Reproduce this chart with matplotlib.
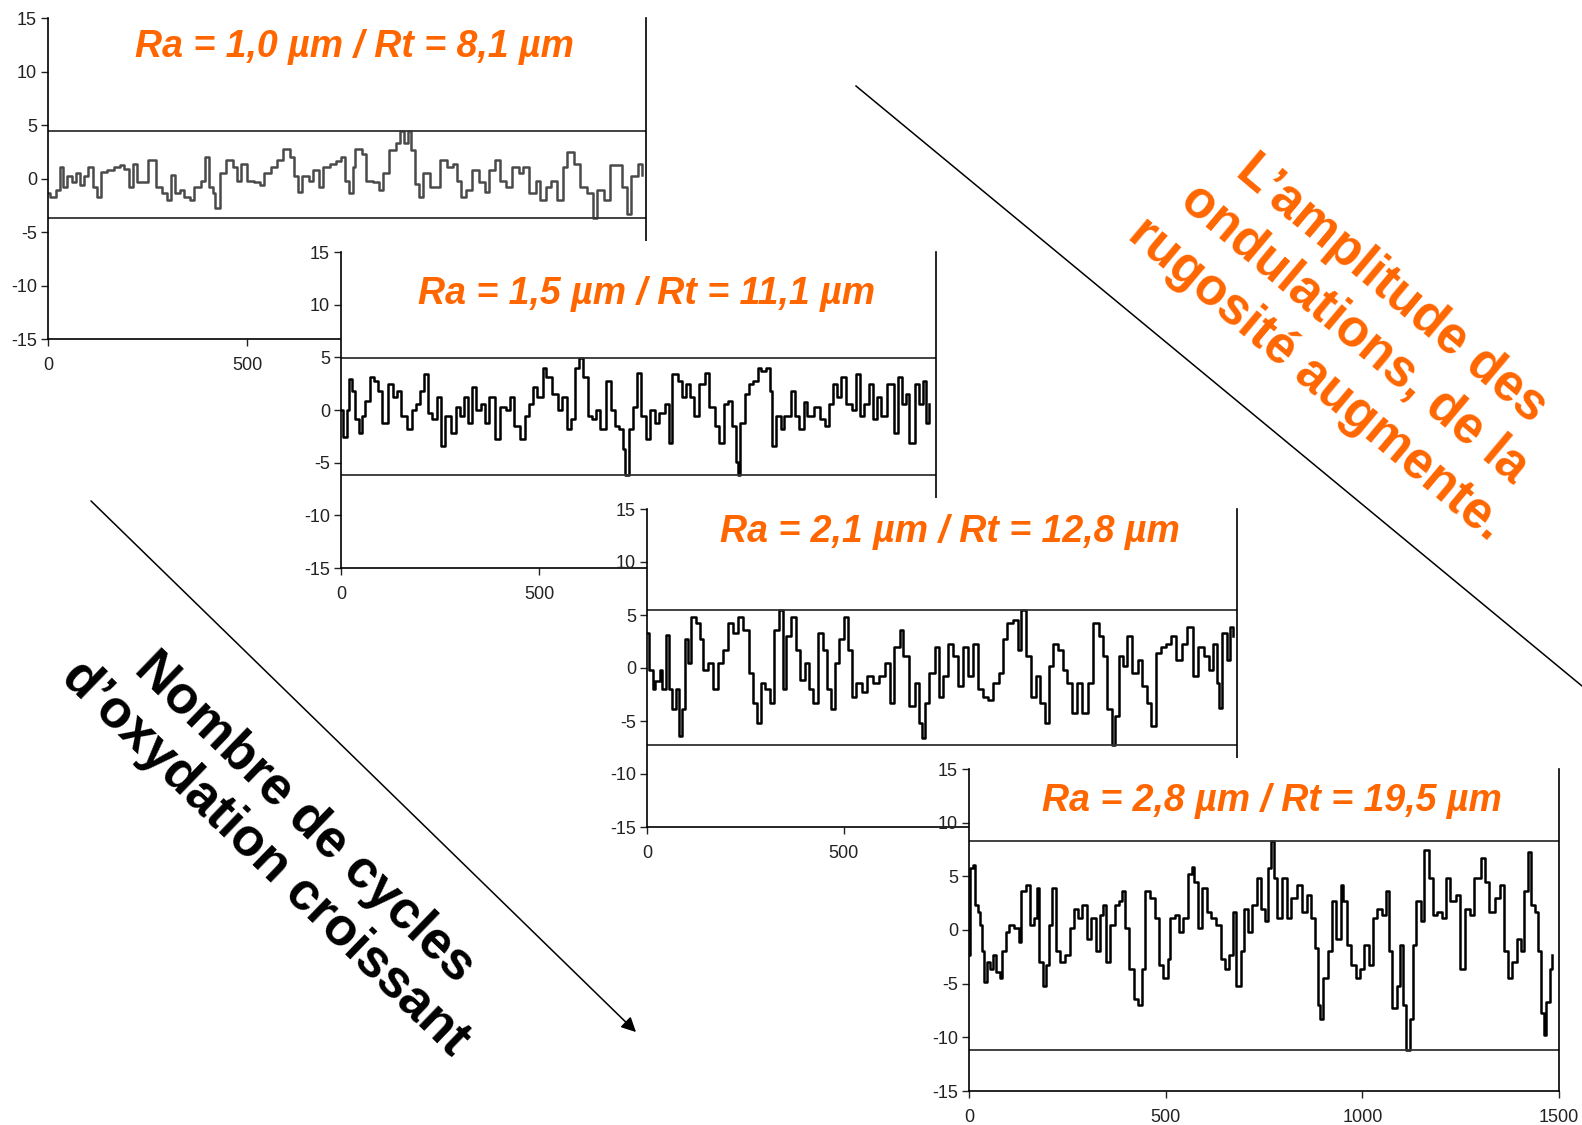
import numpy as np
import matplotlib.pyplot as plt
from matplotlib.lines import Line2D
from matplotlib.patches import FancyArrowPatch

plt.rcParams['font.family'] = ['Liberation Sans', 'DejaVu Sans']
plt.rcParams['axes.unicode_minus'] = False

W, H = 1582, 1125

# roughness profiles (position, height in µm)
x1 = [0, 5, 21, 30, 37, 48, 59, 69, 80, 90, 101, 112, 122, 133, 149, 165, 181, 191, 202, 213,
      223, 239, 250, 264, 271, 287, 298, 309, 319, 330, 340, 356, 367, 383, 394, 404, 415, 420,
      431, 447, 463, 473, 484, 500, 516, 532, 543, 559, 574, 590, 606, 617, 628, 638, 654, 665,
      681, 691, 707, 723, 734, 745, 755, 766, 771, 787, 798, 814, 830, 840, 856, 872, 883, 894,
      902, 910, 920, 931, 941, 957, 973, 984, 1000, 1016, 1027, 1037, 1048, 1064, 1080, 1096,
      1106, 1122, 1133, 1149, 1165, 1181, 1191, 1207, 1223, 1234, 1250, 1261, 1277, 1293, 1303,
      1319, 1335, 1351, 1367, 1378, 1394, 1410, 1426, 1441, 1452, 1463, 1479, 1489]
z1 = [-1.4, -1.7, -1.1, 1.1, -0.8, 0.2, -0.3, 0.5, -0.6, 0.2, 1.1, -0.8, -1.7, 0.6, 0.8, 1.1,
      1.25, 0.9, -0.8, 1.4, -0.3, -0.3, 1.7, 1.7, -0.8, -1.4, -2.0, 0.3, -1.4, -1.1, -1.7, -2.0,
      -0.8, -0.2, 2.0, -0.8, -1.4, -2.8, 0.5, 1.7, 1.1, -0.2, 1.4, -0.2, -0.3, -0.6, 0.5, 1.1,
      1.7, 2.8, 2.0, 0.2, -1.25, 0.2, -0.2, 0.8, -0.8, 1.1, 1.4, 1.6, 2.0, -0.2, -1.4, 1.1, 2.8,
      2.3, -0.2, -0.3, -1.1, 0.5, 2.7, 3.3, 4.4, 3.3, 4.4, 2.7, -0.5, -1.7, 0.5, -0.8, -0.8, 1.7,
      1.1, 1.4, -0.2, -1.7, -1.1, 0.8, -0.3, -1.25, 0.8, 1.7, -0.2, -0.8, 1.1, 0.5, 1.1, -1.4,
      -0.2, -2.0, -0.8, -0.2, -2.0, 1.1, 2.5, 1.4, -0.8, -1.4, -3.7, -1.1, -2.0, 1.25, 1.25,
      -0.8, -3.3, 0.2, 1.4, 0.3]

x2 = [0, 6, 14, 19, 27, 35, 45, 53, 61, 72, 82, 93, 104, 119, 130, 141, 151, 167, 178, 188,
      199, 209, 220, 230, 241, 252, 262, 278, 289, 299, 310, 320, 331, 341, 352, 363, 373, 389,
      400, 415, 426, 437, 452, 463, 474, 484, 495, 508, 518, 532, 548, 558, 569, 579, 590, 600,
      611, 622, 632, 643, 653, 669, 680, 690, 701, 711, 717, 725, 736, 746, 757, 770, 778, 791,
      801, 817, 828, 835, 849, 859, 870, 881, 891, 902, 917, 928, 944, 954, 965, 976, 986, 997,
      1000, 1007, 1018, 1028, 1039, 1050, 1060, 1071, 1081, 1087, 1097, 1108, 1118, 1134, 1145,
      1155, 1166, 1176, 1192, 1208, 1219, 1229, 1240, 1250, 1261, 1272, 1287, 1298, 1309, 1319,
      1330, 1340, 1351, 1361, 1377, 1393, 1404, 1414, 1425, 1433, 1446, 1457, 1467, 1476, 1483]
z2 = [0.0, -2.6, 0.0, 2.9, 1.8, -0.9, -2.2, -0.6, 0.9, 3.1, 2.8, 1.8, -1.2, 2.5, 1.2, 1.8,
      -0.6, -1.8, 0.0, 0.6, 1.8, 3.4, -0.3, -0.9, 1.2, -3.4, -0.6, -2.2, 0.3, -0.6, 1.2, -1.2,
      2.2, 0.0, 0.6, -1.2, 1.2, -2.8, 0.3, 0.0, 1.2, -1.5, -2.8, -0.6, 0.6, 2.2, 1.2, 4.0, 3.1,
      1.5, 0.0, 1.2, -1.8, -0.9, 4.0, 4.9, 3.1, -0.6, -0.9, 0.0, -1.8, 2.8, 0.0, -1.5, -1.8,
      -3.7, -6.2, -1.8, 0.3, 3.5, -0.6, -2.8, 0.0, -1.2, -0.3, 0.6, -3.1, 3.4, 2.8, 1.2, 2.5,
      1.2, -0.6, 2.5, 3.5, 0.3, -1.5, -3.1, 0.6, 0.9, -1.5, -4.9, -6.2, -1.2, 1.5, 2.5, 2.8, 4.0,
      3.7, 4.0, 1.8, -3.4, -0.6, -1.8, -0.6, 1.8, -0.6, -1.8, 0.8, -0.6, 0.3, -0.9, -1.5, 0.6,
      2.5, 1.2, 3.1, 0.6, 0.0, 3.4, -0.6, 0.6, 2.5, -0.9, 1.2, -0.6, 2.5, -2.2, 3.1, 0.6, 1.5,
      -3.1, 2.5, 0.6, 2.8, -1.2, 0.6]

x3 = [0, 5, 14, 21, 32, 39, 48, 56, 64, 74, 82, 88, 96, 103, 112, 124, 135, 142, 154, 167,
      181, 192, 205, 218, 231, 245, 259, 269, 280, 290, 301, 312, 322, 335, 346, 354, 365, 378,
      388, 401, 412, 422, 436, 447, 457, 468, 479, 489, 502, 511, 521, 532, 546, 559, 574, 590,
      606, 617, 628, 642, 652, 665, 681, 692, 699, 708, 718, 731, 742, 752, 766, 777, 790, 803,
      816, 830, 841, 854, 867, 880, 894, 904, 915, 931, 942, 950, 963, 976, 990, 1000, 1011,
      1021, 1032, 1046, 1057, 1069, 1080, 1093, 1107, 1120, 1133, 1149, 1160, 1170, 1181, 1189,
      1199, 1210, 1220, 1234, 1248, 1259, 1271, 1282, 1293, 1306, 1319, 1333, 1346, 1359, 1373,
      1389, 1401, 1415, 1429, 1440, 1450, 1455, 1463, 1474, 1482, 1489]
z3 = [3.3, -0.2, -2.0, -1.25, -0.2, -2.0, 3.1, -2.0, -3.9, -2.0, -6.4, -3.9, 2.7, 0.5, 4.8,
      4.2, 2.7, -0.2, 0.5, -2.0, 0.5, 1.7, 4.2, 3.3, 4.8, 3.6, -0.5, -3.3, -5.2, -1.4, -2.0,
      -3.3, 3.6, 5.5, -2.0, 3.0, 4.8, 1.7, -1.1, 0.5, -2.0, -3.3, 3.3, 1.7, -2.0, -3.9, 0.5, 2.7,
      4.8, 1.7, -2.7, -1.4, -2.3, -0.8, -1.4, -0.8, 0.5, -3.3, 2.0, 3.6, 1.1, -3.6, -1.4, -5.2,
      -6.6, -3.3, -0.5, 2.0, -2.7, -0.8, 2.3, 1.1, -1.7, 2.0, -0.8, 2.3, -2.0, -2.7, -3.0, -1.4,
      -0.5, 2.7, 4.2, 4.5, 1.7, 5.5, 1.1, -2.7, -0.8, -3.3, -5.2, 0.2, 2.3, 1.7, -0.2, -1.4,
      -4.2, -1.4, -4.2, -1.4, 4.2, 3.0, 1.1, -3.9, -7.3, -4.5, 1.1, 0.2, 3.0, -0.5, 0.8, -1.7,
      -3.3, -5.5, 1.4, 2.0, 2.3, 3.0, 0.8, 2.3, 3.9, -0.8, 2.0, 1.1, -0.2, 2.3, -1.4, -3.75, 3.3,
      0.8, 3.9, 3.0]

x4 = [0, 3, 9, 14, 23, 28, 34, 38, 45, 53, 60, 69, 78, 85, 93, 102, 115, 126, 133, 146, 154,
      165, 173, 178, 187, 195, 203, 211, 220, 231, 244, 257, 266, 277, 288, 301, 310, 323, 332,
      341, 348, 359, 370, 381, 389, 397, 408, 419, 430, 439, 447, 461, 472, 483, 494, 505, 512,
      523, 534, 545, 556, 567, 573, 581, 592, 606, 616, 627, 641, 651, 662, 671, 680, 691, 700,
      710, 720, 731, 742, 753, 761, 768, 775, 783, 797, 808, 819, 833, 846, 860, 870, 879, 888,
      892, 901, 912, 923, 934, 945, 950, 961, 972, 983, 994, 1005, 1016, 1027, 1038, 1049, 1060,
      1068, 1076, 1087, 1096, 1104, 1111, 1120, 1129, 1137, 1148, 1158, 1169, 1180, 1191, 1202,
      1213, 1224, 1238, 1249, 1260, 1273, 1284, 1301, 1312, 1323, 1337, 1350, 1359, 1370, 1381,
      1392, 1403, 1411, 1422, 1429, 1438, 1446, 1454, 1462, 1468, 1476, 1483]
z4 = [-2.3, 5.8, 6.1, 2.3, 1.7, 0.5, -2.0, -4.8, -3.0, -3.6, -2.3, -3.9, -4.5, -2.0, -0.2,
      0.5, 0.2, -1.1, 3.6, 4.2, 0.5, 1.1, 3.9, -3.0, -5.2, -3.3, 0.5, 3.9, -2.0, -3.0, -2.3, 0.2,
      2.0, 1.1, 2.3, -0.8, 1.1, -2.0, 1.4, 2.3, -3.0, 0.5, 2.3, 2.7, 3.6, 0.2, -3.6, -6.4, -7.0,
      -3.6, 3.6, 3.0, 1.1, -3.3, -4.5, -2.7, 1.1, 1.4, -0.2, 1.1, 5.2, 5.9, 4.5, 0.2, 3.9, 1.7,
      1.1, 0.5, -2.7, -3.6, -2.3, 1.7, -5.2, -2.0, 2.0, -0.2, 2.3, 4.8, 2.0, 0.8, 5.8, 8.3, 4.8,
      1.1, 4.8, 1.1, 3.0, 4.2, 1.7, 3.3, 1.1, -1.7, -7.0, -8.3, -4.5, -2.0, 2.7, -0.8, 4.2, 2.7,
      -1.4, -3.3, -4.5, -3.6, -1.4, -3.3, 1.1, 2.0, 1.4, 3.6, -2.0, -7.3, -5.2, -1.4, -7.0,
      -11.2, -8.3, -1.4, 2.7, 0.8, 7.5, 4.8, 1.4, 1.7, 1.1, 4.8, 2.7, 3.3, -3.6, 2.0, 1.4, 4.8,
      6.7, 4.5, 1.7, 3.0, 4.2, -2.0, -4.5, -3.0, -0.8, -2.0, 3.6, 7.3, 2.3, 1.7, -2.0, -7.7,
      -9.8, -6.7, -3.6, -2.3]

profiles_x = [x1, x2, x3, x4]
profiles_z = [z1, z2, z3, z4]
peaks = [4.4, 4.9, 5.5, 8.3]
valleys = [-3.7, -6.2, -7.3, -11.2]
titles = ['Ra = 1,0 µm / Rt = 8,1 µm', 'Ra = 1,5 µm / Rt = 11,1 µm',
          'Ra = 2,1 µm / Rt = 12,8 µm', 'Ra = 2,8 µm / Rt = 19,5 µm']
yticks = [-15, -10, -5, 0, 5, 10, 15]
xticks = [0, 500, 1000, 1500]
right_note = ['L’amplitude des', 'ondulations, de la', 'rugosité augmente.']

# pixel boxes: left (x=0), right (x=1500), y=15, y=-15
boxes = [(48, 646, 18, 339), (341, 936, 252, 568), (647, 1237, 509, 827), (969, 1559, 769, 1091)]
title_y = [12.3, 11.0, 12.8, 12.0]
line_col = ['#4a4a4a', 'black', 'black', 'black']

fig = plt.figure(figsize=(W / 100, H / 100), dpi=100)

for i in range(4):
    left, right, ytop, ybot = boxes[i]
    ppu = (ybot - ytop) / 30
    top = ytop - ppu
    ax = fig.add_axes([left / W, 1 - ybot / H, (right - left) / W, (ybot - top) / H])
    ax.set_facecolor('white')
    ax.set_xlim(0, 1500)
    ax.set_ylim(-15, 16)

    ax.plot(profiles_x[i], profiles_z[i], drawstyle='steps-post', color=line_col[i], lw=1.8)
    ax.axhline(peaks[i], color='#333333', lw=1.3)
    ax.axhline(valleys[i], color='#333333', lw=1.3)

    for s in ['left', 'right']:
        ax.spines[s].set_bounds(-15, 15)
        ax.spines[s].set_linewidth(1.2)
    ax.spines['top'].set_visible(False)
    ax.spines['bottom'].set_linewidth(1.2)

    ax.set_yticks(yticks)
    ax.set_xticks(xticks)
    ax.tick_params(axis='y', length=5, width=1, labelsize=13, pad=3, colors='#222222')
    ax.tick_params(axis='x', length=5, width=1, labelsize=13, pad=8, colors='#222222')

    ax.text(770, title_y[i], titles[i], ha='center', va='center', fontsize=27,
            fontweight='bold', fontstyle='italic', color='#ff6600')

# diagonal guides
fig.add_artist(Line2D([856 / W, 1582 / W], [1 - 86 / H, 1 - 686 / H],
                      transform=fig.transFigure, color='black', lw=1.1))
fig.add_artist(FancyArrowPatch((89 / W, 1 - 499 / H), (638 / W, 1 - 1034 / H),
                               transform=fig.transFigure, arrowstyle='-|>',
                               mutation_scale=22, color='black', lw=1.1))

# rotated orange note, one text per line so each box stays inside the figure
ang = np.deg2rad(40)
step = 59
for k, line in enumerate(right_note):
    off = (k - 1) * step
    cx = 1354 - off * np.sin(ang)
    cy = 334 + off * np.cos(ang)
    fig.text(cx / W, 1 - cy / H, line, rotation=-40, ha='center', va='center',
             rotation_mode='anchor', fontsize=37, fontweight='bold', color='#ff6600')

fig.text(285 / W, 1 - 838 / H, "Nombre de cycles\nd’oxydation croissant",
         rotation=-44, ha='center', va='center', multialignment='center',
         fontsize=38, fontweight='bold', color='black', linespacing=1.15)

fig.savefig('out.png', dpi=100, facecolor='white')
